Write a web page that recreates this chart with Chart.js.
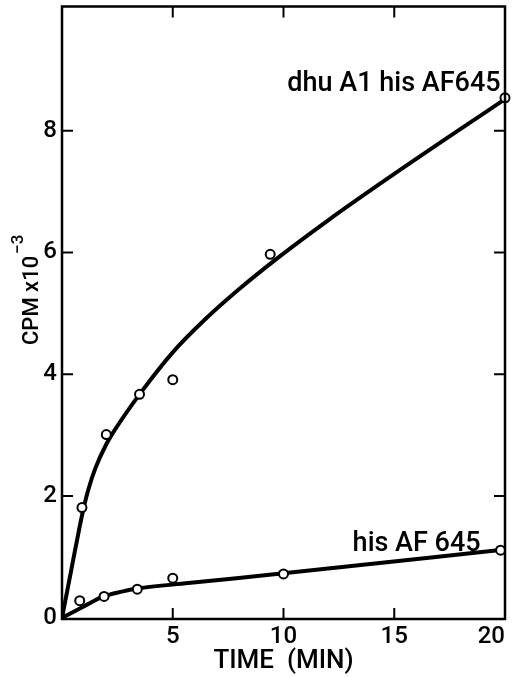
<!DOCTYPE html>
<html>
<head>
<meta charset="utf-8">
<script src="https://cdn.jsdelivr.net/npm/chart.js@4.4.0/dist/chart.umd.min.js"></script>
<style>
  html, body { margin: 0; padding: 0; background: #fff; }
  #wrap { width: 512px; height: 677px; }
</style>
</head>
<body>
<div id="wrap"><canvas id="cpmChart" width="512" height="677"></canvas></div>
<script>
// measured points: time (min) vs CPM x 10^-3
const mutantTimes = [0.9, 2, 3.5, 5, 9.4, 20];
const mutantCpm = [1.81, 3.01, 3.67, 3.91, 5.97, 8.54];
const parentTimes = [0.8, 1.9, 3.4, 5, 10, 19.8];
const parentCpm = [0.28, 0.35, 0.47, 0.65, 0.72, 1.11];

// hand drawn curves through the points
const mutantCurveTimes = [0, 0.4, 0.8, 1, 1.2, 1.5, 2, 2.5, 3.5, 5, 6.5, 8, 9.7, 12, 15, 20];
const mutantCurveCpm = [0, 0.75, 1.5, 1.84, 2.12, 2.45, 2.85, 3.15, 3.67, 4.36, 4.915, 5.4, 5.9, 6.525, 7.29, 8.52];
const parentCurveTimes = [0, 1, 1.87, 2.7, 3.4, 5.7, 10, 20];
const parentCurveCpm = [0, 0.19, 0.35, 0.43, 0.48, 0.57, 0.73, 1.12];

const xTicks = [0, 5, 10, 15, 20];
const yTicks = [0, 2, 4, 6, 8];
const seriesNames = ['dhu A1 his AF645', 'his AF 645'];

const toXY = (xs, ys) => xs.map((x, i) => ({x: x, y: ys[i]}));

Chart.defaults.font.family = "Roboto, 'DejaVu Sans', sans-serif";
Chart.defaults.font.weight = '500';
Chart.defaults.color = '#000';

// box round the plot with inward ticks on all four sides
const frameTicks = {
  id: 'frameTicks',
  afterDraw(chart) {
    const {ctx, chartArea: a, scales} = chart;
    const len = 11;
    ctx.save();
    ctx.strokeStyle = '#000';
    ctx.lineWidth = 2.5;
    ctx.strokeRect(a.left, a.top, a.right - a.left, a.bottom - a.top);
    ctx.lineWidth = 2;
    ctx.beginPath();
    xTicks.forEach(v => {
      if (v === 0 || v === 20) return;
      const px = scales.x.getPixelForValue(v);
      ctx.moveTo(px, a.bottom); ctx.lineTo(px, a.bottom - len);
      ctx.moveTo(px, a.top); ctx.lineTo(px, a.top + len);
    });
    yTicks.forEach(v => {
      if (v === 0) return;
      const py = scales.y.getPixelForValue(v);
      ctx.moveTo(a.left, py); ctx.lineTo(a.left + len, py);
      ctx.moveTo(a.right, py); ctx.lineTo(a.right - len, py);
    });
    ctx.stroke();
    ctx.restore();
  }
};

// curve names and the y axis title with its superscript
const textBits = {
  id: 'textBits',
  afterDraw(chart) {
    const {ctx, scales} = chart;
    const x = scales.x, y = scales.y;
    ctx.save();
    ctx.fillStyle = '#000';
    ctx.font = "500 27px Roboto, 'DejaVu Sans'";
    ctx.textAlign = 'right';
    ctx.textBaseline = 'alphabetic';
    ctx.fillText(seriesNames[0], x.getPixelForValue(19.8), y.getPixelForValue(8.66));
    ctx.fillText(seriesNames[1], x.getPixelForValue(18.9), y.getPixelForValue(1.1));

    ctx.translate(38, 345);
    ctx.rotate(-Math.PI / 2);
    ctx.textAlign = 'left';
    ctx.font = "500 22px Roboto, 'DejaVu Sans'";
    const main = 'CPM x10';
    ctx.fillText(main, 0, 0);
    const w = ctx.measureText(main).width;
    ctx.font = "500 17px Roboto, 'DejaVu Sans'";
    ctx.fillText('\u22123', w + 2, -15);
    ctx.restore();
  }
};

const ctx = document.getElementById('cpmChart');

new Chart(ctx, {
  type: 'line',
  data: {
    datasets: [{
      label: seriesNames[0] + ' points',
      data: toXY(mutantTimes, mutantCpm),
      showLine: false,
      pointRadius: 4.5,
      pointBorderWidth: 2,
      pointBackgroundColor: '#fff',
      pointBorderColor: '#000',
      clip: false
    }, {
      label: seriesNames[1] + ' points',
      data: toXY(parentTimes, parentCpm),
      showLine: false,
      pointRadius: 4.5,
      pointBorderWidth: 2,
      pointBackgroundColor: '#fff',
      pointBorderColor: '#000',
      clip: false
    }, {
      label: seriesNames[0],
      data: toXY(mutantCurveTimes, mutantCurveCpm),
      borderColor: '#000',
      borderWidth: 4,
      pointRadius: 0,
      cubicInterpolationMode: 'monotone'
    }, {
      label: seriesNames[1],
      data: toXY(parentCurveTimes, parentCurveCpm),
      borderColor: '#000',
      borderWidth: 4,
      pointRadius: 0,
      cubicInterpolationMode: 'monotone'
    }]
  },
  options: {
    responsive: false,
    animation: false,
    layout: { padding: { top: 6, right: 7, left: 0, bottom: 0 } },
    plugins: {
      legend: { display: false },
      tooltip: { enabled: false }
    },
    scales: {
      x: {
        type: 'linear',
        min: 0,
        max: 20,
        grid: { display: false, drawTicks: false },
        border: { display: false },
        afterBuildTicks: s => { s.ticks = xTicks.map(v => ({value: v})); },
        afterFit: s => { s.height = 58; s.paddingLeft = 0; s.paddingRight = 0; },
        ticks: {
          align: 'inner',
          autoSkip: false,
          maxRotation: 0,
          padding: 4,
          font: { size: 24 },
          callback: v => v === 0 ? '' : v
        },
        title: {
          display: true,
          text: 'TIME  (MIN)',
          font: { size: 26 },
          padding: { top: 0, bottom: 0 }
        }
      },
      y: {
        min: -0.02,
        max: 10.04,
        grid: { display: false, drawTicks: false },
        border: { display: false },
        afterBuildTicks: s => { s.ticks = yTicks.map(v => ({value: v})); },
        afterFit: s => { s.width = 62; s.paddingTop = 0; s.paddingBottom = 0; },
        ticks: {
          padding: 5,
          font: { size: 24 }
        }
      }
    }
  },
  plugins: [frameTicks, textBits]
});
</script>
</body>
</html>
